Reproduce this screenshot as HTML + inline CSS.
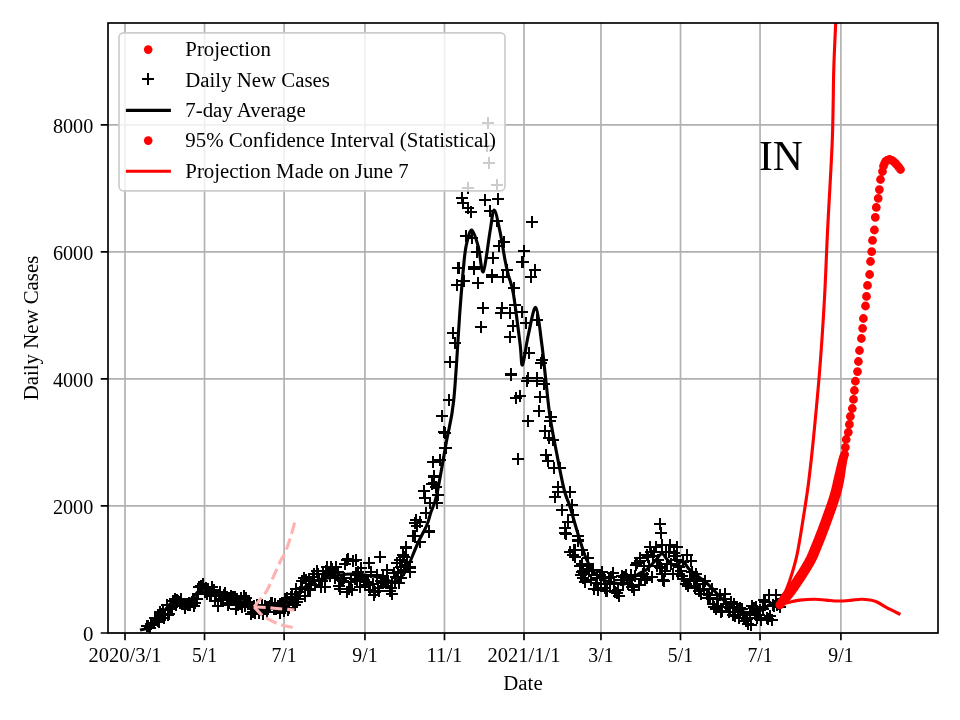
<!DOCTYPE html><html><head><meta charset="utf-8"><style>html,body{margin:0;padding:0;background:#fff;overflow:hidden}svg{display:block;will-change:transform}text{font-family:"Liberation Serif",serif}</style></head><body><svg width="960" height="720" viewBox="0 0 960 720"><rect width="960" height="720" fill="#fff"/><defs><clipPath id="ax"><rect x="108" y="23" width="830" height="610"/></clipPath></defs><path d="M125.00,23 V633 M204.54,23 V633 M284.09,23 V633 M364.94,23 V633 M444.48,23 V633 M524.02,23 V633 M600.96,23 V633 M680.50,23 V633 M760.05,23 V633 M840.90,23 V633 M108,633.00 H938 M108,505.95 H938 M108,378.90 H938 M108,251.85 H938 M108,124.80 H938" stroke="#b0b0b0" stroke-width="1.667" fill="none"/><g clip-path="url(#ax)"><path d="M141,625h12v2h-12zM146,620h2v12h-2zM142,625h12v2h-12zM147,620h2v12h-2zM144,627h12v2h-12zM149,622h2v12h-2zM145,623h12v2h-12zM150,618h2v12h-2zM146,622h12v2h-12zM151,617h2v12h-2zM148,622h12v2h-12zM153,617h2v12h-2zM149,617h12v2h-12zM154,612h2v12h-2zM150,619h12v2h-12zM155,614h2v12h-2zM152,620h12v2h-12zM157,615h2v12h-2zM153,621h12v2h-12zM158,616h2v12h-2zM154,611h12v2h-12zM159,606h2v12h-2zM156,613h12v2h-12zM161,608h2v12h-2zM157,609h12v2h-12zM162,604h2v12h-2zM158,617h12v2h-12zM163,612h2v12h-2zM159,614h12v2h-12zM164,609h2v12h-2zM161,604h12v2h-12zM166,599h2v12h-2zM162,614h12v2h-12zM167,609h2v12h-2zM163,613h12v2h-12zM168,608h2v12h-2zM165,608h12v2h-12zM170,603h2v12h-2zM166,606h12v2h-12zM171,601h2v12h-2zM167,600h12v2h-12zM172,595h2v12h-2zM169,598h12v2h-12zM174,593h2v12h-2zM170,604h12v2h-12zM175,599h2v12h-2zM171,599h12v2h-12zM176,594h2v12h-2zM172,600h12v2h-12zM177,595h2v12h-2zM174,601h12v2h-12zM179,596h2v12h-2zM175,598h12v2h-12zM180,593h2v12h-2zM176,603h12v2h-12zM181,598h2v12h-2zM178,603h12v2h-12zM183,598h2v12h-2zM179,607h12v2h-12zM184,602h2v12h-2zM180,603h12v2h-12zM185,598h2v12h-2zM182,604h12v2h-12zM187,599h2v12h-2zM183,602h12v2h-12zM188,597h2v12h-2zM184,604h12v2h-12zM189,599h2v12h-2zM186,601h12v2h-12zM191,596h2v12h-2zM187,598h12v2h-12zM192,593h2v12h-2zM188,605h12v2h-12zM193,600h2v12h-2zM189,602h12v2h-12zM194,597h2v12h-2zM191,598h12v2h-12zM196,593h2v12h-2zM192,593h12v2h-12zM197,588h2v12h-2zM193,586h12v2h-12zM198,581h2v12h-2zM195,585h12v2h-12zM200,580h2v12h-2zM196,586h12v2h-12zM201,581h2v12h-2zM197,583h12v2h-12zM202,578h2v12h-2zM199,591h12v2h-12zM204,586h2v12h-2zM200,587h12v2h-12zM205,582h2v12h-2zM201,593h12v2h-12zM206,588h2v12h-2zM202,588h12v2h-12zM207,583h2v12h-2zM204,595h12v2h-12zM209,590h2v12h-2zM205,594h12v2h-12zM210,589h2v12h-2zM206,586h12v2h-12zM211,581h2v12h-2zM208,589h12v2h-12zM213,584h2v12h-2zM209,600h12v2h-12zM214,595h2v12h-2zM210,595h12v2h-12zM215,590h2v12h-2zM212,605h12v2h-12zM217,600h2v12h-2zM213,595h12v2h-12zM218,590h2v12h-2zM214,591h12v2h-12zM219,586h2v12h-2zM215,598h12v2h-12zM220,593h2v12h-2zM217,599h12v2h-12zM222,594h2v12h-2zM218,594h12v2h-12zM223,589h2v12h-2zM219,592h12v2h-12zM224,587h2v12h-2zM221,596h12v2h-12zM226,591h2v12h-2zM222,604h12v2h-12zM227,599h2v12h-2zM223,602h12v2h-12zM228,597h2v12h-2zM225,595h12v2h-12zM230,590h2v12h-2zM226,597h12v2h-12zM231,592h2v12h-2zM227,596h12v2h-12zM232,591h2v12h-2zM229,596h12v2h-12zM234,591h2v12h-2zM230,608h12v2h-12zM235,603h2v12h-2zM231,598h12v2h-12zM236,593h2v12h-2zM232,604h12v2h-12zM237,599h2v12h-2zM234,602h12v2h-12zM239,597h2v12h-2zM235,597h12v2h-12zM240,592h2v12h-2zM236,606h12v2h-12zM241,601h2v12h-2zM238,595h12v2h-12zM243,590h2v12h-2zM239,605h12v2h-12zM244,600h2v12h-2zM240,597h12v2h-12zM245,592h2v12h-2zM242,603h12v2h-12zM247,598h2v12h-2zM243,601h12v2h-12zM248,596h2v12h-2zM244,603h12v2h-12zM249,598h2v12h-2zM245,613h12v2h-12zM250,608h2v12h-2zM247,611h12v2h-12zM252,606h2v12h-2zM248,605h12v2h-12zM253,600h2v12h-2zM249,612h12v2h-12zM254,607h2v12h-2zM251,604h12v2h-12zM256,599h2v12h-2zM252,606h12v2h-12zM257,601h2v12h-2zM253,612h12v2h-12zM258,607h2v12h-2zM255,609h12v2h-12zM260,604h2v12h-2zM256,604h12v2h-12zM261,599h2v12h-2zM257,613h12v2h-12zM262,608h2v12h-2zM259,605h12v2h-12zM264,600h2v12h-2zM260,606h12v2h-12zM265,601h2v12h-2zM261,611h12v2h-12zM266,606h2v12h-2zM262,606h12v2h-12zM267,601h2v12h-2zM264,605h12v2h-12zM269,600h2v12h-2zM265,602h12v2h-12zM270,597h2v12h-2zM266,602h12v2h-12zM271,597h2v12h-2zM268,608h12v2h-12zM273,603h2v12h-2zM269,603h12v2h-12zM274,598h2v12h-2zM270,608h12v2h-12zM275,603h2v12h-2zM272,605h12v2h-12zM277,600h2v12h-2zM273,605h12v2h-12zM278,600h2v12h-2zM274,612h12v2h-12zM279,607h2v12h-2zM275,605h12v2h-12zM280,600h2v12h-2zM277,605h12v2h-12zM282,600h2v12h-2zM278,610h12v2h-12zM283,605h2v12h-2zM279,598h12v2h-12zM284,593h2v12h-2zM281,597h12v2h-12zM286,592h2v12h-2zM282,609h12v2h-12zM287,604h2v12h-2zM283,607h12v2h-12zM288,602h2v12h-2zM285,596h12v2h-12zM290,591h2v12h-2zM286,593h12v2h-12zM291,588h2v12h-2zM287,602h12v2h-12zM292,597h2v12h-2zM289,604h12v2h-12zM294,599h2v12h-2zM290,588h12v2h-12zM295,583h2v12h-2zM291,601h12v2h-12zM296,596h2v12h-2zM292,598h12v2h-12zM297,593h2v12h-2zM294,591h12v2h-12zM299,586h2v12h-2zM295,587h12v2h-12zM300,582h2v12h-2zM296,580h12v2h-12zM301,575h2v12h-2zM298,577h12v2h-12zM303,572h2v12h-2zM299,595h12v2h-12zM304,590h2v12h-2zM300,579h12v2h-12zM305,574h2v12h-2zM302,588h12v2h-12zM307,583h2v12h-2zM303,578h12v2h-12zM308,573h2v12h-2zM304,589h12v2h-12zM309,584h2v12h-2zM305,583h12v2h-12zM310,578h2v12h-2zM307,576h12v2h-12zM312,571h2v12h-2zM308,573h12v2h-12zM313,568h2v12h-2zM309,584h12v2h-12zM314,579h2v12h-2zM311,570h12v2h-12zM316,565h2v12h-2zM312,573h12v2h-12zM317,568h2v12h-2zM313,580h12v2h-12zM318,575h2v12h-2zM315,586h12v2h-12zM320,581h2v12h-2zM316,580h12v2h-12zM321,575h2v12h-2zM317,573h12v2h-12zM322,568h2v12h-2zM319,586h12v2h-12zM324,581h2v12h-2zM320,570h12v2h-12zM325,565h2v12h-2zM321,566h12v2h-12zM326,561h2v12h-2zM322,571h12v2h-12zM327,566h2v12h-2zM324,575h12v2h-12zM329,570h2v12h-2zM325,566h12v2h-12zM330,561h2v12h-2zM326,568h12v2h-12zM331,563h2v12h-2zM328,572h12v2h-12zM333,567h2v12h-2zM329,577h12v2h-12zM334,572h2v12h-2zM330,566h12v2h-12zM335,561h2v12h-2zM332,571h12v2h-12zM337,566h2v12h-2zM333,585h12v2h-12zM338,580h2v12h-2zM334,588h12v2h-12zM339,583h2v12h-2zM335,579h12v2h-12zM340,574h2v12h-2zM337,580h12v2h-12zM342,575h2v12h-2zM338,577h12v2h-12zM343,572h2v12h-2zM339,563h12v2h-12zM344,558h2v12h-2zM341,559h12v2h-12zM346,554h2v12h-2zM342,558h12v2h-12zM347,553h2v12h-2zM343,588h12v2h-12zM348,583h2v12h-2zM345,581h12v2h-12zM350,576h2v12h-2zM346,589h12v2h-12zM351,584h2v12h-2zM347,560h12v2h-12zM352,555h2v12h-2zM349,578h12v2h-12zM354,573h2v12h-2zM350,574h12v2h-12zM355,569h2v12h-2zM351,580h12v2h-12zM356,575h2v12h-2zM352,571h12v2h-12zM357,566h2v12h-2zM354,586h12v2h-12zM359,581h2v12h-2zM355,567h12v2h-12zM360,562h2v12h-2zM356,576h12v2h-12zM361,571h2v12h-2zM358,580h12v2h-12zM363,575h2v12h-2zM359,584h12v2h-12zM364,579h2v12h-2zM360,581h12v2h-12zM365,576h2v12h-2zM362,581h12v2h-12zM367,576h2v12h-2zM363,584h12v2h-12zM368,579h2v12h-2zM364,589h12v2h-12zM369,584h2v12h-2zM365,571h12v2h-12zM370,566h2v12h-2zM367,583h12v2h-12zM372,578h2v12h-2zM368,591h12v2h-12zM373,586h2v12h-2zM369,591h12v2h-12zM374,586h2v12h-2zM371,574h12v2h-12zM376,569h2v12h-2zM372,587h12v2h-12zM377,582h2v12h-2zM373,590h12v2h-12zM378,585h2v12h-2zM375,580h12v2h-12zM380,575h2v12h-2zM376,582h12v2h-12zM381,577h2v12h-2zM377,575h12v2h-12zM382,570h2v12h-2zM378,581h12v2h-12zM383,576h2v12h-2zM380,581h12v2h-12zM385,576h2v12h-2zM381,569h12v2h-12zM386,564h2v12h-2zM382,582h12v2h-12zM387,577h2v12h-2zM384,590h12v2h-12zM389,585h2v12h-2zM385,587h12v2h-12zM390,582h2v12h-2zM386,582h12v2h-12zM391,577h2v12h-2zM388,572h12v2h-12zM393,567h2v12h-2zM389,581h12v2h-12zM394,576h2v12h-2zM390,576h12v2h-12zM395,571h2v12h-2zM392,571h12v2h-12zM397,566h2v12h-2zM393,582h12v2h-12zM398,577h2v12h-2zM394,559h12v2h-12zM399,554h2v12h-2zM395,577h12v2h-12zM400,572h2v12h-2zM397,554h12v2h-12zM402,549h2v12h-2zM398,569h12v2h-12zM403,564h2v12h-2zM399,564h12v2h-12zM404,559h2v12h-2zM574,565h12v2h-12zM579,560h2v12h-2zM575,574h12v2h-12zM580,569h2v12h-2zM577,570h12v2h-12zM582,565h2v12h-2zM578,573h12v2h-12zM583,568h2v12h-2zM579,581h12v2h-12zM584,576h2v12h-2zM581,568h12v2h-12zM586,563h2v12h-2zM582,563h12v2h-12zM587,558h2v12h-2zM583,570h12v2h-12zM588,565h2v12h-2zM585,579h12v2h-12zM590,574h2v12h-2zM586,569h12v2h-12zM591,564h2v12h-2zM587,569h12v2h-12zM592,564h2v12h-2zM588,588h12v2h-12zM593,583h2v12h-2zM590,582h12v2h-12zM595,577h2v12h-2zM591,577h12v2h-12zM596,572h2v12h-2zM592,589h12v2h-12zM597,584h2v12h-2zM594,574h12v2h-12zM599,569h2v12h-2zM595,583h12v2h-12zM600,578h2v12h-2zM596,571h12v2h-12zM601,566h2v12h-2zM598,577h12v2h-12zM603,572h2v12h-2zM599,587h12v2h-12zM604,582h2v12h-2zM600,590h12v2h-12zM605,585h2v12h-2zM601,590h12v2h-12zM606,585h2v12h-2zM603,577h12v2h-12zM608,572h2v12h-2zM604,583h12v2h-12zM609,578h2v12h-2zM605,576h12v2h-12zM610,571h2v12h-2zM607,572h12v2h-12zM612,567h2v12h-2zM608,582h12v2h-12zM613,577h2v12h-2zM609,591h12v2h-12zM614,586h2v12h-2zM611,592h12v2h-12zM616,587h2v12h-2zM612,589h12v2h-12zM617,584h2v12h-2zM613,595h12v2h-12zM618,590h2v12h-2zM615,579h12v2h-12zM620,574h2v12h-2zM616,575h12v2h-12zM621,570h2v12h-2zM617,582h12v2h-12zM622,577h2v12h-2zM618,576h12v2h-12zM623,571h2v12h-2zM620,574h12v2h-12zM625,569h2v12h-2zM621,578h12v2h-12zM626,573h2v12h-2zM622,583h12v2h-12zM627,578h2v12h-2zM624,579h12v2h-12zM629,574h2v12h-2zM625,574h12v2h-12zM630,569h2v12h-2zM626,586h12v2h-12zM631,581h2v12h-2zM628,589h12v2h-12zM633,584h2v12h-2zM629,575h12v2h-12zM634,570h2v12h-2zM630,564h12v2h-12zM635,559h2v12h-2zM631,562h12v2h-12zM636,557h2v12h-2zM633,584h12v2h-12zM638,579h2v12h-2zM634,560h12v2h-12zM639,555h2v12h-2zM635,578h12v2h-12zM640,573h2v12h-2zM637,573h12v2h-12zM642,568h2v12h-2zM638,565h12v2h-12zM643,560h2v12h-2zM639,579h12v2h-12zM644,574h2v12h-2zM641,554h12v2h-12zM646,549h2v12h-2zM642,556h12v2h-12zM647,551h2v12h-2zM643,565h12v2h-12zM648,560h2v12h-2zM645,551h12v2h-12zM650,546h2v12h-2zM646,576h12v2h-12zM651,571h2v12h-2zM647,555h12v2h-12zM652,550h2v12h-2zM648,551h12v2h-12zM653,546h2v12h-2zM650,546h12v2h-12zM655,541h2v12h-2zM651,565h12v2h-12zM656,560h2v12h-2zM652,559h12v2h-12zM657,554h2v12h-2zM654,566h12v2h-12zM659,561h2v12h-2zM655,567h12v2h-12zM660,562h2v12h-2zM656,573h12v2h-12zM661,568h2v12h-2zM658,580h12v2h-12zM663,575h2v12h-2zM659,570h12v2h-12zM664,565h2v12h-2zM660,551h12v2h-12zM665,546h2v12h-2zM661,563h12v2h-12zM666,558h2v12h-2zM663,551h12v2h-12zM668,546h2v12h-2zM664,544h12v2h-12zM669,539h2v12h-2zM665,563h12v2h-12zM670,558h2v12h-2zM667,573h12v2h-12zM672,568h2v12h-2zM668,552h12v2h-12zM673,547h2v12h-2zM669,555h12v2h-12zM674,550h2v12h-2zM671,559h12v2h-12zM676,554h2v12h-2zM672,573h12v2h-12zM677,568h2v12h-2zM673,566h12v2h-12zM678,561h2v12h-2zM675,570h12v2h-12zM680,565h2v12h-2zM676,575h12v2h-12zM681,570h2v12h-2zM677,561h12v2h-12zM682,556h2v12h-2zM678,578h12v2h-12zM683,573h2v12h-2zM680,583h12v2h-12zM685,578h2v12h-2zM681,554h12v2h-12zM686,549h2v12h-2zM682,585h12v2h-12zM687,580h2v12h-2zM684,578h12v2h-12zM689,573h2v12h-2zM685,560h12v2h-12zM690,555h2v12h-2zM686,571h12v2h-12zM691,566h2v12h-2zM688,578h12v2h-12zM693,573h2v12h-2zM689,587h12v2h-12zM694,582h2v12h-2zM690,573h12v2h-12zM695,568h2v12h-2zM691,580h12v2h-12zM696,575h2v12h-2zM693,590h12v2h-12zM698,585h2v12h-2zM694,588h12v2h-12zM699,583h2v12h-2zM695,593h12v2h-12zM700,588h2v12h-2zM697,583h12v2h-12zM702,578h2v12h-2zM698,589h12v2h-12zM703,584h2v12h-2zM699,580h12v2h-12zM704,575h2v12h-2zM701,593h12v2h-12zM706,588h2v12h-2zM702,597h12v2h-12zM707,592h2v12h-2zM703,594h12v2h-12zM708,589h2v12h-2zM704,597h12v2h-12zM709,592h2v12h-2zM706,588h12v2h-12zM711,583h2v12h-2zM707,603h12v2h-12zM712,598h2v12h-2zM708,606h12v2h-12zM713,601h2v12h-2zM710,608h12v2h-12zM715,603h2v12h-2zM711,598h12v2h-12zM716,593h2v12h-2zM712,605h12v2h-12zM717,600h2v12h-2zM714,594h12v2h-12zM719,589h2v12h-2zM715,611h12v2h-12zM720,606h2v12h-2zM716,610h12v2h-12zM721,605h2v12h-2zM718,598h12v2h-12zM723,593h2v12h-2zM719,593h12v2h-12zM724,588h2v12h-2zM720,603h12v2h-12zM725,598h2v12h-2zM721,606h12v2h-12zM726,601h2v12h-2zM723,611h12v2h-12zM728,606h2v12h-2zM724,607h12v2h-12zM729,602h2v12h-2zM725,601h12v2h-12zM730,596h2v12h-2zM727,614h12v2h-12zM732,609h2v12h-2zM728,603h12v2h-12zM733,598h2v12h-2zM729,615h12v2h-12zM734,610h2v12h-2zM731,606h12v2h-12zM736,601h2v12h-2zM732,609h12v2h-12zM737,604h2v12h-2zM733,617h12v2h-12zM738,612h2v12h-2zM734,607h12v2h-12zM739,602h2v12h-2zM736,608h12v2h-12zM741,603h2v12h-2zM737,614h12v2h-12zM742,609h2v12h-2zM738,617h12v2h-12zM743,612h2v12h-2zM740,620h12v2h-12zM745,615h2v12h-2zM741,618h12v2h-12zM746,613h2v12h-2zM742,623h12v2h-12zM747,618h2v12h-2zM744,614h12v2h-12zM749,609h2v12h-2zM745,624h12v2h-12zM750,619h2v12h-2zM746,605h12v2h-12zM751,600h2v12h-2zM748,607h12v2h-12zM753,602h2v12h-2zM749,613h12v2h-12zM754,608h2v12h-2zM750,606h12v2h-12zM755,601h2v12h-2zM751,617h12v2h-12zM756,612h2v12h-2zM753,614h12v2h-12zM758,609h2v12h-2zM754,609h12v2h-12zM759,604h2v12h-2zM755,619h12v2h-12zM760,614h2v12h-2zM757,608h12v2h-12zM762,603h2v12h-2zM758,599h12v2h-12zM763,594h2v12h-2zM759,601h12v2h-12zM764,596h2v12h-2zM761,617h12v2h-12zM766,612h2v12h-2zM762,618h12v2h-12zM767,613h2v12h-2zM763,594h12v2h-12zM768,589h2v12h-2zM764,615h12v2h-12zM769,610h2v12h-2zM766,619h12v2h-12zM771,614h2v12h-2zM767,604h12v2h-12zM772,599h2v12h-2zM768,605h12v2h-12zM773,600h2v12h-2zM770,594h12v2h-12zM775,589h2v12h-2zM771,604h12v2h-12zM776,599h2v12h-2zM772,603h12v2h-12zM777,598h2v12h-2zM774,606h12v2h-12zM779,601h2v12h-2zM453,267h12v2h-12zM458,262h2v12h-2zM458,280h12v2h-12zM463,275h2v12h-2zM451,284h12v2h-12zM456,279h2v12h-2zM472,282h12v2h-12zM477,277h2v12h-2zM468,268h12v2h-12zM473,263h2v12h-2zM486,276h12v2h-12zM491,271h2v12h-2zM497,276h12v2h-12zM502,271h2v12h-2zM501,269h12v2h-12zM506,264h2v12h-2zM516,261h12v2h-12zM521,256h2v12h-2zM529,269h12v2h-12zM534,264h2v12h-2zM525,276h12v2h-12zM530,271h2v12h-2zM508,287h12v2h-12zM513,282h2v12h-2zM477,307h12v2h-12zM482,302h2v12h-2zM496,307h12v2h-12zM501,302h2v12h-2zM495,312h12v2h-12zM500,307h2v12h-2zM504,312h12v2h-12zM509,307h2v12h-2zM509,304h12v2h-12zM514,299h2v12h-2zM516,311h12v2h-12zM521,306h2v12h-2zM475,326h12v2h-12zM480,321h2v12h-2zM507,325h12v2h-12zM512,320h2v12h-2zM520,322h12v2h-12zM525,317h2v12h-2zM531,319h12v2h-12zM536,314h2v12h-2zM504,336h12v2h-12zM509,331h2v12h-2zM447,332h12v2h-12zM452,327h2v12h-2zM449,342h12v2h-12zM454,337h2v12h-2zM444,361h12v2h-12zM449,356h2v12h-2zM523,352h12v2h-12zM528,347h2v12h-2zM536,359h12v2h-12zM541,354h2v12h-2zM535,362h12v2h-12zM540,357h2v12h-2zM505,373h12v2h-12zM510,368h2v12h-2zM522,377h12v2h-12zM527,372h2v12h-2zM531,377h12v2h-12zM536,372h2v12h-2zM456,197h12v2h-12zM461,192h2v12h-2zM457,202h12v2h-12zM462,197h2v12h-2zM465,211h12v2h-12zM470,206h2v12h-2zM462,207h12v2h-12zM467,202h2v12h-2zM479,199h12v2h-12zM484,194h2v12h-2zM492,198h12v2h-12zM497,193h2v12h-2zM484,210h12v2h-12zM489,205h2v12h-2zM491,220h12v2h-12zM496,215h2v12h-2zM460,235h12v2h-12zM465,230h2v12h-2zM466,237h12v2h-12zM471,232h2v12h-2zM498,241h12v2h-12zM503,236h2v12h-2zM493,245h12v2h-12zM498,240h2v12h-2zM471,251h12v2h-12zM476,246h2v12h-2zM487,257h12v2h-12zM492,252h2v12h-2zM452,267h12v2h-12zM457,262h2v12h-2zM468,266h12v2h-12zM473,261h2v12h-2zM526,221h12v2h-12zM531,216h2v12h-2zM518,250h12v2h-12zM523,245h2v12h-2zM517,261h12v2h-12zM522,256h2v12h-2zM529,269h12v2h-12zM534,264h2v12h-2zM501,269h12v2h-12zM506,264h2v12h-2zM486,274h12v2h-12zM491,269h2v12h-2zM482,122h12v2h-12zM487,117h2v12h-2zM483,162h12v2h-12zM488,157h2v12h-2zM462,187h12v2h-12zM467,182h2v12h-2zM491,184h12v2h-12zM496,179h2v12h-2zM481,145h12v2h-12zM486,140h2v12h-2zM505,374h12v2h-12zM510,369h2v12h-2zM521,380h12v2h-12zM526,375h2v12h-2zM531,380h12v2h-12zM536,375h2v12h-2zM538,383h12v2h-12zM543,378h2v12h-2zM510,397h12v2h-12zM515,392h2v12h-2zM514,395h12v2h-12zM519,390h2v12h-2zM534,396h12v2h-12zM539,391h2v12h-2zM533,410h12v2h-12zM538,405h2v12h-2zM522,420h12v2h-12zM527,415h2v12h-2zM545,416h12v2h-12zM550,411h2v12h-2zM544,420h12v2h-12zM549,415h2v12h-2zM539,430h12v2h-12zM544,425h2v12h-2zM543,437h12v2h-12zM548,432h2v12h-2zM547,439h12v2h-12zM552,434h2v12h-2zM512,458h12v2h-12zM517,453h2v12h-2zM540,454h12v2h-12zM545,449h2v12h-2zM542,460h12v2h-12zM547,455h2v12h-2zM548,467h12v2h-12zM553,462h2v12h-2zM554,467h12v2h-12zM559,462h2v12h-2zM443,399h12v2h-12zM448,394h2v12h-2zM436,415h12v2h-12zM441,410h2v12h-2zM439,432h12v2h-12zM444,427h2v12h-2zM439,447h12v2h-12zM444,442h2v12h-2zM552,486h12v2h-12zM557,481h2v12h-2zM436,415h12v2h-12zM441,410h2v12h-2zM438,431h12v2h-12zM443,426h2v12h-2zM440,447h12v2h-12zM445,442h2v12h-2zM427,461h12v2h-12zM432,456h2v12h-2zM434,459h12v2h-12zM439,454h2v12h-2zM428,475h12v2h-12zM433,470h2v12h-2zM426,483h12v2h-12zM431,478h2v12h-2zM443,399h12v2h-12zM448,394h2v12h-2zM549,496h12v2h-12zM554,491h2v12h-2zM552,491h12v2h-12zM557,486h2v12h-2zM564,491h12v2h-12zM569,486h2v12h-2zM566,504h12v2h-12zM571,499h2v12h-2zM556,509h12v2h-12zM561,504h2v12h-2zM567,514h12v2h-12zM572,509h2v12h-2zM562,521h12v2h-12zM567,516h2v12h-2zM559,527h12v2h-12zM564,522h2v12h-2zM559,532h12v2h-12zM564,527h2v12h-2zM572,539h12v2h-12zM577,534h2v12h-2zM569,549h12v2h-12zM574,544h2v12h-2zM567,554h12v2h-12zM572,549h2v12h-2zM428,476h12v2h-12zM433,471h2v12h-2zM428,482h12v2h-12zM433,477h2v12h-2zM430,486h12v2h-12zM435,481h2v12h-2zM418,490h12v2h-12zM423,485h2v12h-2zM419,497h12v2h-12zM424,492h2v12h-2zM432,494h12v2h-12zM437,489h2v12h-2zM431,502h12v2h-12zM436,497h2v12h-2zM424,502h12v2h-12zM429,497h2v12h-2zM420,512h12v2h-12zM425,507h2v12h-2zM410,519h12v2h-12zM415,514h2v12h-2zM409,522h12v2h-12zM414,517h2v12h-2zM414,521h12v2h-12zM419,516h2v12h-2zM654,523h12v2h-12zM659,518h2v12h-2zM655,532h12v2h-12zM660,527h2v12h-2zM656,544h12v2h-12zM661,539h2v12h-2zM644,546h12v2h-12zM649,541h2v12h-2zM634,557h12v2h-12zM639,552h2v12h-2zM641,577h12v2h-12zM646,572h2v12h-2zM657,579h12v2h-12zM662,574h2v12h-2zM671,546h12v2h-12zM676,541h2v12h-2zM341,591h12v2h-12zM346,586h2v12h-2zM350,559h12v2h-12zM355,554h2v12h-2zM363,562h12v2h-12zM368,557h2v12h-2zM374,556h12v2h-12zM379,551h2v12h-2zM368,594h12v2h-12zM373,589h2v12h-2zM386,593h12v2h-12zM391,588h2v12h-2zM391,562h12v2h-12zM396,557h2v12h-2zM404,567h12v2h-12zM409,562h2v12h-2zM400,547h12v2h-12zM405,542h2v12h-2zM409,535h12v2h-12zM414,530h2v12h-2zM423,531h12v2h-12zM428,526h2v12h-2zM414,541h12v2h-12zM419,536h2v12h-2zM568,549h12v2h-12zM573,544h2v12h-2zM569,556h12v2h-12zM574,551h2v12h-2zM576,549h12v2h-12zM581,544h2v12h-2zM582,557h12v2h-12zM587,552h2v12h-2zM576,563h12v2h-12zM581,558h2v12h-2zM576,571h12v2h-12zM581,566h2v12h-2zM577,577h12v2h-12zM582,572h2v12h-2zM572,540h12v2h-12zM577,535h2v12h-2zM572,535h12v2h-12zM577,530h2v12h-2zM560,533h12v2h-12zM565,528h2v12h-2zM559,527h12v2h-12zM564,522h2v12h-2zM564,551h12v2h-12zM569,546h2v12h-2zM400,546h12v2h-12zM405,541h2v12h-2zM398,556h12v2h-12zM403,551h2v12h-2zM401,561h12v2h-12zM406,556h2v12h-2zM404,566h12v2h-12zM409,561h2v12h-2zM404,571h12v2h-12zM409,566h2v12h-2zM395,566h12v2h-12zM400,561h2v12h-2zM407,535h12v2h-12zM412,530h2v12h-2zM414,541h12v2h-12zM419,536h2v12h-2zM423,530h12v2h-12zM428,525h2v12h-2zM411,525h12v2h-12zM416,520h2v12h-2z" fill="#000" shape-rendering="crispEdges"/><path d="M140.00,630.00 C141.17,629.67 144.50,629.67 147.00,628.00 C149.50,626.33 152.67,622.17 155.00,620.00 C157.33,617.83 158.92,617.17 161.00,615.00 C163.08,612.83 165.38,609.33 167.50,607.00 C169.62,604.67 171.67,601.83 173.75,601.00 C175.83,600.17 177.96,601.83 180.00,602.00 C182.04,602.17 183.92,602.67 186.00,602.00 C188.08,601.33 190.38,599.83 192.50,598.00 C194.62,596.17 196.67,592.50 198.75,591.00 C200.83,589.50 202.96,589.17 205.00,589.00 C207.04,588.83 208.92,589.00 211.00,590.00 C213.08,591.00 215.33,594.00 217.50,595.00 C219.67,596.00 221.92,595.33 224.00,596.00 C226.08,596.67 228.00,598.17 230.00,599.00 C232.00,599.83 233.83,600.50 236.00,601.00 C238.17,601.50 240.25,601.00 243.00,602.00 C245.75,603.00 248.83,605.83 252.50,607.00 C256.17,608.17 260.83,609.00 265.00,609.00 C269.17,609.00 273.33,608.33 277.50,607.00 C281.67,605.67 285.83,604.00 290.00,601.00 C294.17,598.00 298.33,592.33 302.50,589.00 C306.67,585.67 310.83,582.83 315.00,581.00 C319.17,579.17 323.33,579.00 327.50,578.00 C331.67,577.00 335.83,575.67 340.00,575.00 C344.17,574.33 348.33,574.00 352.50,574.00 C356.67,574.00 360.83,574.50 365.00,575.00 C369.17,575.50 372.71,575.83 377.50,577.00 C382.29,578.17 390.00,581.75 393.75,582.00 C397.50,582.25 397.77,580.78 400.00,578.50 C402.23,576.22 404.12,574.22 407.10,568.30 C410.08,562.38 414.60,550.22 417.90,543.00 C421.20,535.78 424.75,530.08 426.90,525.00 C429.05,519.92 429.17,517.50 430.80,512.50 C432.43,507.50 434.12,506.67 436.70,495.00 C439.27,483.33 443.41,458.33 446.25,442.50 C449.09,426.67 451.46,422.08 453.75,400.00 C456.04,377.92 458.26,333.33 460.00,310.00 C461.74,286.67 463.08,271.12 464.20,260.00 C465.32,248.88 465.45,248.30 466.70,243.30 C467.95,238.30 469.77,229.43 471.70,230.00 C473.63,230.57 476.37,239.75 478.30,246.70 C480.23,253.65 481.35,274.20 483.30,271.70 C485.25,269.20 488.18,241.98 490.00,231.70 C491.82,221.42 492.53,210.00 494.20,210.00 C495.87,210.00 498.20,223.37 500.00,231.70 C501.80,240.03 503.62,252.78 505.00,260.00 C506.38,267.22 506.92,269.45 508.30,275.00 C509.68,280.55 511.35,281.92 513.30,293.30 C515.25,304.68 518.47,331.35 520.00,343.30 C521.53,355.25 521.12,366.38 522.50,365.00 C523.88,363.62 526.08,344.58 528.30,335.00 C530.52,325.42 533.57,306.12 535.80,307.50 C538.03,308.88 540.03,331.22 541.70,343.30 C543.37,355.38 544.42,367.77 545.80,380.00 C547.18,392.23 548.18,404.48 550.00,416.70 C551.82,428.92 554.33,441.08 556.70,453.30 C559.07,465.52 561.98,481.10 564.20,490.00 C566.42,498.90 567.65,499.20 570.00,506.70 C572.35,514.20 575.52,526.12 578.30,535.00 C581.08,543.88 583.92,553.62 586.70,560.00 C589.48,566.38 592.23,569.97 595.00,573.30 C597.77,576.63 599.13,578.26 603.30,580.00 C607.47,581.74 615.97,583.33 620.00,583.75 C624.03,584.17 624.38,584.17 627.50,582.50 C630.62,580.83 635.67,575.83 638.75,573.75 C641.83,571.67 643.29,572.12 646.00,570.00 C648.71,567.88 652.35,563.71 655.00,561.00 C657.65,558.29 659.82,553.92 661.90,553.75 C663.98,553.58 665.32,557.96 667.50,560.00 C669.68,562.04 672.50,565.83 675.00,566.00 C677.50,566.17 680.00,560.33 682.50,561.00 C685.00,561.67 685.62,566.00 690.00,570.00 C694.38,574.00 703.20,580.00 708.75,585.00 C714.30,590.00 718.09,595.67 723.30,600.00 C728.51,604.33 734.43,609.00 740.00,611.00 C745.57,613.00 751.20,613.33 756.70,612.00 C762.20,610.67 769.12,604.33 773.00,603.00 C776.88,601.67 778.83,603.83 780.00,604.00" stroke="#000" stroke-width="3.125" fill="none" stroke-linejoin="round"/><path d="M254.10,606.90 C255.40,605.23 259.77,599.62 261.90,596.90 C264.03,594.18 264.92,594.08 266.90,590.60 C268.88,587.12 271.40,581.10 273.75,576.00 C276.10,570.90 279.12,563.83 281.00,560.00 C282.88,556.17 283.42,556.75 285.00,553.00 C286.58,549.25 288.88,542.63 290.50,537.50 C292.12,532.37 294.00,524.75 294.70,522.20" stroke="#ffb2b2" stroke-width="3.125" fill="none" stroke-dasharray="11.56 5"/><path d="M254.10,606.90 C256.02,607.00 260.87,607.15 265.60,607.50 C270.33,607.85 277.70,608.58 282.50,609.00 C287.30,609.42 292.42,609.83 294.40,610.00" stroke="#ffb2b2" stroke-width="3.125" fill="none" stroke-dasharray="11.56 5"/><path d="M254.10,606.90 C255.40,608.25 259.77,613.08 261.90,615.00 C264.03,616.92 264.40,617.00 266.90,618.40 C269.40,619.80 274.30,622.25 276.90,623.40 C279.50,624.55 279.85,624.62 282.50,625.30 C285.15,625.98 291.08,627.13 292.80,627.50" stroke="#ffb2b2" stroke-width="3.125" fill="none" stroke-dasharray="11.56 5"/><path d="M779.80,604.80m-4.4,0a4.4,4.4 0 1,0 8.8,0a4.4,4.4 0 1,0 -8.8,0M779.80,604.80m-4.4,0a4.4,4.4 0 1,0 8.8,0a4.4,4.4 0 1,0 -8.8,0M780.58,603.58m-4.4,0a4.4,4.4 0 1,0 8.8,0a4.4,4.4 0 1,0 -8.8,0M780.98,603.58m-4.4,0a4.4,4.4 0 1,0 8.8,0a4.4,4.4 0 1,0 -8.8,0M781.43,602.26m-4.4,0a4.4,4.4 0 1,0 8.8,0a4.4,4.4 0 1,0 -8.8,0M782.25,602.26m-4.4,0a4.4,4.4 0 1,0 8.8,0a4.4,4.4 0 1,0 -8.8,0M782.23,601.01m-4.4,0a4.4,4.4 0 1,0 8.8,0a4.4,4.4 0 1,0 -8.8,0M783.46,601.01m-4.4,0a4.4,4.4 0 1,0 8.8,0a4.4,4.4 0 1,0 -8.8,0M783.09,599.66m-4.4,0a4.4,4.4 0 1,0 8.8,0a4.4,4.4 0 1,0 -8.8,0M784.75,599.66m-4.4,0a4.4,4.4 0 1,0 8.8,0a4.4,4.4 0 1,0 -8.8,0M783.87,598.41m-4.4,0a4.4,4.4 0 1,0 8.8,0a4.4,4.4 0 1,0 -8.8,0M785.94,598.41m-4.4,0a4.4,4.4 0 1,0 8.8,0a4.4,4.4 0 1,0 -8.8,0M784.78,597.16m-4.4,0a4.4,4.4 0 1,0 8.8,0a4.4,4.4 0 1,0 -8.8,0M786.98,597.16m-4.4,0a4.4,4.4 0 1,0 8.8,0a4.4,4.4 0 1,0 -8.8,0M785.73,595.94m-4.4,0a4.4,4.4 0 1,0 8.8,0a4.4,4.4 0 1,0 -8.8,0M787.93,595.94m-4.4,0a4.4,4.4 0 1,0 8.8,0a4.4,4.4 0 1,0 -8.8,0M786.77,594.64m-4.4,0a4.4,4.4 0 1,0 8.8,0a4.4,4.4 0 1,0 -8.8,0M788.97,594.64m-4.4,0a4.4,4.4 0 1,0 8.8,0a4.4,4.4 0 1,0 -8.8,0M787.84,593.31m-4.4,0a4.4,4.4 0 1,0 8.8,0a4.4,4.4 0 1,0 -8.8,0M790.04,593.31m-4.4,0a4.4,4.4 0 1,0 8.8,0a4.4,4.4 0 1,0 -8.8,0M788.85,592.02m-4.4,0a4.4,4.4 0 1,0 8.8,0a4.4,4.4 0 1,0 -8.8,0M791.05,592.02m-4.4,0a4.4,4.4 0 1,0 8.8,0a4.4,4.4 0 1,0 -8.8,0M789.80,590.77m-4.4,0a4.4,4.4 0 1,0 8.8,0a4.4,4.4 0 1,0 -8.8,0M792.00,590.77m-4.4,0a4.4,4.4 0 1,0 8.8,0a4.4,4.4 0 1,0 -8.8,0M790.69,589.56m-4.4,0a4.4,4.4 0 1,0 8.8,0a4.4,4.4 0 1,0 -8.8,0M792.89,589.56m-4.4,0a4.4,4.4 0 1,0 8.8,0a4.4,4.4 0 1,0 -8.8,0M791.66,588.20m-4.4,0a4.4,4.4 0 1,0 8.8,0a4.4,4.4 0 1,0 -8.8,0M793.86,588.20m-4.4,0a4.4,4.4 0 1,0 8.8,0a4.4,4.4 0 1,0 -8.8,0M792.54,586.93m-4.4,0a4.4,4.4 0 1,0 8.8,0a4.4,4.4 0 1,0 -8.8,0M794.74,586.93m-4.4,0a4.4,4.4 0 1,0 8.8,0a4.4,4.4 0 1,0 -8.8,0M793.49,585.51m-4.4,0a4.4,4.4 0 1,0 8.8,0a4.4,4.4 0 1,0 -8.8,0M795.69,585.51m-4.4,0a4.4,4.4 0 1,0 8.8,0a4.4,4.4 0 1,0 -8.8,0M794.34,584.25m-4.4,0a4.4,4.4 0 1,0 8.8,0a4.4,4.4 0 1,0 -8.8,0M796.54,584.25m-4.4,0a4.4,4.4 0 1,0 8.8,0a4.4,4.4 0 1,0 -8.8,0M795.26,582.87m-4.4,0a4.4,4.4 0 1,0 8.8,0a4.4,4.4 0 1,0 -8.8,0M797.46,582.87m-4.4,0a4.4,4.4 0 1,0 8.8,0a4.4,4.4 0 1,0 -8.8,0M796.24,581.40m-4.4,0a4.4,4.4 0 1,0 8.8,0a4.4,4.4 0 1,0 -8.8,0M798.44,581.40m-4.4,0a4.4,4.4 0 1,0 8.8,0a4.4,4.4 0 1,0 -8.8,0M797.27,579.85m-4.4,0a4.4,4.4 0 1,0 8.8,0a4.4,4.4 0 1,0 -8.8,0M799.47,579.85m-4.4,0a4.4,4.4 0 1,0 8.8,0a4.4,4.4 0 1,0 -8.8,0M798.06,578.64m-4.4,0a4.4,4.4 0 1,0 8.8,0a4.4,4.4 0 1,0 -8.8,0M800.26,578.64m-4.4,0a4.4,4.4 0 1,0 8.8,0a4.4,4.4 0 1,0 -8.8,0M798.87,577.41m-4.4,0a4.4,4.4 0 1,0 8.8,0a4.4,4.4 0 1,0 -8.8,0M801.07,577.41m-4.4,0a4.4,4.4 0 1,0 8.8,0a4.4,4.4 0 1,0 -8.8,0M799.69,576.15m-4.4,0a4.4,4.4 0 1,0 8.8,0a4.4,4.4 0 1,0 -8.8,0M801.89,576.15m-4.4,0a4.4,4.4 0 1,0 8.8,0a4.4,4.4 0 1,0 -8.8,0M800.51,574.88m-4.4,0a4.4,4.4 0 1,0 8.8,0a4.4,4.4 0 1,0 -8.8,0M802.71,574.88m-4.4,0a4.4,4.4 0 1,0 8.8,0a4.4,4.4 0 1,0 -8.8,0M801.34,573.60m-4.4,0a4.4,4.4 0 1,0 8.8,0a4.4,4.4 0 1,0 -8.8,0M803.54,573.60m-4.4,0a4.4,4.4 0 1,0 8.8,0a4.4,4.4 0 1,0 -8.8,0M802.15,572.32m-4.4,0a4.4,4.4 0 1,0 8.8,0a4.4,4.4 0 1,0 -8.8,0M804.35,572.32m-4.4,0a4.4,4.4 0 1,0 8.8,0a4.4,4.4 0 1,0 -8.8,0M802.96,571.04m-4.4,0a4.4,4.4 0 1,0 8.8,0a4.4,4.4 0 1,0 -8.8,0M805.16,571.04m-4.4,0a4.4,4.4 0 1,0 8.8,0a4.4,4.4 0 1,0 -8.8,0M803.75,569.78m-4.4,0a4.4,4.4 0 1,0 8.8,0a4.4,4.4 0 1,0 -8.8,0M805.95,569.78m-4.4,0a4.4,4.4 0 1,0 8.8,0a4.4,4.4 0 1,0 -8.8,0M804.52,568.53m-4.4,0a4.4,4.4 0 1,0 8.8,0a4.4,4.4 0 1,0 -8.8,0M806.72,568.53m-4.4,0a4.4,4.4 0 1,0 8.8,0a4.4,4.4 0 1,0 -8.8,0M805.27,567.31m-4.4,0a4.4,4.4 0 1,0 8.8,0a4.4,4.4 0 1,0 -8.8,0M807.47,567.31m-4.4,0a4.4,4.4 0 1,0 8.8,0a4.4,4.4 0 1,0 -8.8,0M806.22,565.73m-4.4,0a4.4,4.4 0 1,0 8.8,0a4.4,4.4 0 1,0 -8.8,0M808.42,565.73m-4.4,0a4.4,4.4 0 1,0 8.8,0a4.4,4.4 0 1,0 -8.8,0M807.10,564.22m-4.4,0a4.4,4.4 0 1,0 8.8,0a4.4,4.4 0 1,0 -8.8,0M809.30,564.22m-4.4,0a4.4,4.4 0 1,0 8.8,0a4.4,4.4 0 1,0 -8.8,0M807.90,562.80m-4.4,0a4.4,4.4 0 1,0 8.8,0a4.4,4.4 0 1,0 -8.8,0M810.10,562.80m-4.4,0a4.4,4.4 0 1,0 8.8,0a4.4,4.4 0 1,0 -8.8,0M808.63,561.47m-4.4,0a4.4,4.4 0 1,0 8.8,0a4.4,4.4 0 1,0 -8.8,0M810.83,561.47m-4.4,0a4.4,4.4 0 1,0 8.8,0a4.4,4.4 0 1,0 -8.8,0M809.29,560.21m-4.4,0a4.4,4.4 0 1,0 8.8,0a4.4,4.4 0 1,0 -8.8,0M811.49,560.21m-4.4,0a4.4,4.4 0 1,0 8.8,0a4.4,4.4 0 1,0 -8.8,0M809.91,559.00m-4.4,0a4.4,4.4 0 1,0 8.8,0a4.4,4.4 0 1,0 -8.8,0M812.11,559.00m-4.4,0a4.4,4.4 0 1,0 8.8,0a4.4,4.4 0 1,0 -8.8,0M810.62,557.56m-4.4,0a4.4,4.4 0 1,0 8.8,0a4.4,4.4 0 1,0 -8.8,0M812.82,557.56m-4.4,0a4.4,4.4 0 1,0 8.8,0a4.4,4.4 0 1,0 -8.8,0M811.27,556.18m-4.4,0a4.4,4.4 0 1,0 8.8,0a4.4,4.4 0 1,0 -8.8,0M813.47,556.18m-4.4,0a4.4,4.4 0 1,0 8.8,0a4.4,4.4 0 1,0 -8.8,0M811.87,554.82m-4.4,0a4.4,4.4 0 1,0 8.8,0a4.4,4.4 0 1,0 -8.8,0M814.07,554.82m-4.4,0a4.4,4.4 0 1,0 8.8,0a4.4,4.4 0 1,0 -8.8,0M812.46,553.47m-4.4,0a4.4,4.4 0 1,0 8.8,0a4.4,4.4 0 1,0 -8.8,0M814.66,553.47m-4.4,0a4.4,4.4 0 1,0 8.8,0a4.4,4.4 0 1,0 -8.8,0M813.02,552.10m-4.4,0a4.4,4.4 0 1,0 8.8,0a4.4,4.4 0 1,0 -8.8,0M815.22,552.10m-4.4,0a4.4,4.4 0 1,0 8.8,0a4.4,4.4 0 1,0 -8.8,0M813.60,550.70m-4.4,0a4.4,4.4 0 1,0 8.8,0a4.4,4.4 0 1,0 -8.8,0M815.80,550.70m-4.4,0a4.4,4.4 0 1,0 8.8,0a4.4,4.4 0 1,0 -8.8,0M814.19,549.23m-4.4,0a4.4,4.4 0 1,0 8.8,0a4.4,4.4 0 1,0 -8.8,0M816.39,549.23m-4.4,0a4.4,4.4 0 1,0 8.8,0a4.4,4.4 0 1,0 -8.8,0M814.68,548.01m-4.4,0a4.4,4.4 0 1,0 8.8,0a4.4,4.4 0 1,0 -8.8,0M816.88,548.01m-4.4,0a4.4,4.4 0 1,0 8.8,0a4.4,4.4 0 1,0 -8.8,0M815.20,546.72m-4.4,0a4.4,4.4 0 1,0 8.8,0a4.4,4.4 0 1,0 -8.8,0M817.40,546.72m-4.4,0a4.4,4.4 0 1,0 8.8,0a4.4,4.4 0 1,0 -8.8,0M815.75,545.35m-4.4,0a4.4,4.4 0 1,0 8.8,0a4.4,4.4 0 1,0 -8.8,0M817.95,545.35m-4.4,0a4.4,4.4 0 1,0 8.8,0a4.4,4.4 0 1,0 -8.8,0M816.34,543.92m-4.4,0a4.4,4.4 0 1,0 8.8,0a4.4,4.4 0 1,0 -8.8,0M818.54,543.92m-4.4,0a4.4,4.4 0 1,0 8.8,0a4.4,4.4 0 1,0 -8.8,0M816.95,542.43m-4.4,0a4.4,4.4 0 1,0 8.8,0a4.4,4.4 0 1,0 -8.8,0M819.15,542.43m-4.4,0a4.4,4.4 0 1,0 8.8,0a4.4,4.4 0 1,0 -8.8,0M817.56,540.90m-4.4,0a4.4,4.4 0 1,0 8.8,0a4.4,4.4 0 1,0 -8.8,0M819.76,540.90m-4.4,0a4.4,4.4 0 1,0 8.8,0a4.4,4.4 0 1,0 -8.8,0M818.19,539.33m-4.4,0a4.4,4.4 0 1,0 8.8,0a4.4,4.4 0 1,0 -8.8,0M820.39,539.33m-4.4,0a4.4,4.4 0 1,0 8.8,0a4.4,4.4 0 1,0 -8.8,0M818.67,538.13m-4.4,0a4.4,4.4 0 1,0 8.8,0a4.4,4.4 0 1,0 -8.8,0M820.87,538.13m-4.4,0a4.4,4.4 0 1,0 8.8,0a4.4,4.4 0 1,0 -8.8,0M819.15,536.91m-4.4,0a4.4,4.4 0 1,0 8.8,0a4.4,4.4 0 1,0 -8.8,0M821.35,536.91m-4.4,0a4.4,4.4 0 1,0 8.8,0a4.4,4.4 0 1,0 -8.8,0M819.63,535.68m-4.4,0a4.4,4.4 0 1,0 8.8,0a4.4,4.4 0 1,0 -8.8,0M821.83,535.68m-4.4,0a4.4,4.4 0 1,0 8.8,0a4.4,4.4 0 1,0 -8.8,0M820.12,534.42m-4.4,0a4.4,4.4 0 1,0 8.8,0a4.4,4.4 0 1,0 -8.8,0M822.32,534.42m-4.4,0a4.4,4.4 0 1,0 8.8,0a4.4,4.4 0 1,0 -8.8,0M820.61,533.16m-4.4,0a4.4,4.4 0 1,0 8.8,0a4.4,4.4 0 1,0 -8.8,0M822.81,533.16m-4.4,0a4.4,4.4 0 1,0 8.8,0a4.4,4.4 0 1,0 -8.8,0M821.10,531.88m-4.4,0a4.4,4.4 0 1,0 8.8,0a4.4,4.4 0 1,0 -8.8,0M823.30,531.88m-4.4,0a4.4,4.4 0 1,0 8.8,0a4.4,4.4 0 1,0 -8.8,0M821.59,530.58m-4.4,0a4.4,4.4 0 1,0 8.8,0a4.4,4.4 0 1,0 -8.8,0M823.79,530.58m-4.4,0a4.4,4.4 0 1,0 8.8,0a4.4,4.4 0 1,0 -8.8,0M822.08,529.28m-4.4,0a4.4,4.4 0 1,0 8.8,0a4.4,4.4 0 1,0 -8.8,0M824.28,529.28m-4.4,0a4.4,4.4 0 1,0 8.8,0a4.4,4.4 0 1,0 -8.8,0M822.58,527.97m-4.4,0a4.4,4.4 0 1,0 8.8,0a4.4,4.4 0 1,0 -8.8,0M824.78,527.97m-4.4,0a4.4,4.4 0 1,0 8.8,0a4.4,4.4 0 1,0 -8.8,0M823.07,526.65m-4.4,0a4.4,4.4 0 1,0 8.8,0a4.4,4.4 0 1,0 -8.8,0M825.27,526.65m-4.4,0a4.4,4.4 0 1,0 8.8,0a4.4,4.4 0 1,0 -8.8,0M823.56,525.33m-4.4,0a4.4,4.4 0 1,0 8.8,0a4.4,4.4 0 1,0 -8.8,0M825.76,525.33m-4.4,0a4.4,4.4 0 1,0 8.8,0a4.4,4.4 0 1,0 -8.8,0M824.05,524.00m-4.4,0a4.4,4.4 0 1,0 8.8,0a4.4,4.4 0 1,0 -8.8,0M826.25,524.00m-4.4,0a4.4,4.4 0 1,0 8.8,0a4.4,4.4 0 1,0 -8.8,0M824.54,522.67m-4.4,0a4.4,4.4 0 1,0 8.8,0a4.4,4.4 0 1,0 -8.8,0M826.74,522.67m-4.4,0a4.4,4.4 0 1,0 8.8,0a4.4,4.4 0 1,0 -8.8,0M825.02,521.33m-4.4,0a4.4,4.4 0 1,0 8.8,0a4.4,4.4 0 1,0 -8.8,0M827.22,521.33m-4.4,0a4.4,4.4 0 1,0 8.8,0a4.4,4.4 0 1,0 -8.8,0M825.50,520.00m-4.4,0a4.4,4.4 0 1,0 8.8,0a4.4,4.4 0 1,0 -8.8,0M827.70,520.00m-4.4,0a4.4,4.4 0 1,0 8.8,0a4.4,4.4 0 1,0 -8.8,0M825.98,518.66m-4.4,0a4.4,4.4 0 1,0 8.8,0a4.4,4.4 0 1,0 -8.8,0M828.18,518.66m-4.4,0a4.4,4.4 0 1,0 8.8,0a4.4,4.4 0 1,0 -8.8,0M826.47,517.31m-4.4,0a4.4,4.4 0 1,0 8.8,0a4.4,4.4 0 1,0 -8.8,0M828.67,517.31m-4.4,0a4.4,4.4 0 1,0 8.8,0a4.4,4.4 0 1,0 -8.8,0M826.96,515.95m-4.4,0a4.4,4.4 0 1,0 8.8,0a4.4,4.4 0 1,0 -8.8,0M829.16,515.95m-4.4,0a4.4,4.4 0 1,0 8.8,0a4.4,4.4 0 1,0 -8.8,0M827.46,514.58m-4.4,0a4.4,4.4 0 1,0 8.8,0a4.4,4.4 0 1,0 -8.8,0M829.66,514.58m-4.4,0a4.4,4.4 0 1,0 8.8,0a4.4,4.4 0 1,0 -8.8,0M827.95,513.20m-4.4,0a4.4,4.4 0 1,0 8.8,0a4.4,4.4 0 1,0 -8.8,0M830.15,513.20m-4.4,0a4.4,4.4 0 1,0 8.8,0a4.4,4.4 0 1,0 -8.8,0M828.46,511.82m-4.4,0a4.4,4.4 0 1,0 8.8,0a4.4,4.4 0 1,0 -8.8,0M830.66,511.82m-4.4,0a4.4,4.4 0 1,0 8.8,0a4.4,4.4 0 1,0 -8.8,0M828.96,510.42m-4.4,0a4.4,4.4 0 1,0 8.8,0a4.4,4.4 0 1,0 -8.8,0M831.16,510.42m-4.4,0a4.4,4.4 0 1,0 8.8,0a4.4,4.4 0 1,0 -8.8,0M829.46,509.01m-4.4,0a4.4,4.4 0 1,0 8.8,0a4.4,4.4 0 1,0 -8.8,0M831.66,509.01m-4.4,0a4.4,4.4 0 1,0 8.8,0a4.4,4.4 0 1,0 -8.8,0M829.95,507.60m-4.4,0a4.4,4.4 0 1,0 8.8,0a4.4,4.4 0 1,0 -8.8,0M832.15,507.60m-4.4,0a4.4,4.4 0 1,0 8.8,0a4.4,4.4 0 1,0 -8.8,0M830.45,506.18m-4.4,0a4.4,4.4 0 1,0 8.8,0a4.4,4.4 0 1,0 -8.8,0M832.65,506.18m-4.4,0a4.4,4.4 0 1,0 8.8,0a4.4,4.4 0 1,0 -8.8,0M830.94,504.75m-4.4,0a4.4,4.4 0 1,0 8.8,0a4.4,4.4 0 1,0 -8.8,0M833.14,504.75m-4.4,0a4.4,4.4 0 1,0 8.8,0a4.4,4.4 0 1,0 -8.8,0M831.43,503.32m-4.4,0a4.4,4.4 0 1,0 8.8,0a4.4,4.4 0 1,0 -8.8,0M833.63,503.32m-4.4,0a4.4,4.4 0 1,0 8.8,0a4.4,4.4 0 1,0 -8.8,0M831.91,501.88m-4.4,0a4.4,4.4 0 1,0 8.8,0a4.4,4.4 0 1,0 -8.8,0M834.11,501.88m-4.4,0a4.4,4.4 0 1,0 8.8,0a4.4,4.4 0 1,0 -8.8,0M832.38,500.44m-4.4,0a4.4,4.4 0 1,0 8.8,0a4.4,4.4 0 1,0 -8.8,0M834.58,500.44m-4.4,0a4.4,4.4 0 1,0 8.8,0a4.4,4.4 0 1,0 -8.8,0M832.85,498.99m-4.4,0a4.4,4.4 0 1,0 8.8,0a4.4,4.4 0 1,0 -8.8,0M835.05,498.99m-4.4,0a4.4,4.4 0 1,0 8.8,0a4.4,4.4 0 1,0 -8.8,0M833.30,497.54m-4.4,0a4.4,4.4 0 1,0 8.8,0a4.4,4.4 0 1,0 -8.8,0M835.50,497.54m-4.4,0a4.4,4.4 0 1,0 8.8,0a4.4,4.4 0 1,0 -8.8,0M833.74,496.08m-4.4,0a4.4,4.4 0 1,0 8.8,0a4.4,4.4 0 1,0 -8.8,0M835.94,496.08m-4.4,0a4.4,4.4 0 1,0 8.8,0a4.4,4.4 0 1,0 -8.8,0M834.18,494.63m-4.4,0a4.4,4.4 0 1,0 8.8,0a4.4,4.4 0 1,0 -8.8,0M836.38,494.63m-4.4,0a4.4,4.4 0 1,0 8.8,0a4.4,4.4 0 1,0 -8.8,0M834.60,493.16m-4.4,0a4.4,4.4 0 1,0 8.8,0a4.4,4.4 0 1,0 -8.8,0M836.80,493.16m-4.4,0a4.4,4.4 0 1,0 8.8,0a4.4,4.4 0 1,0 -8.8,0M835.00,491.70m-4.4,0a4.4,4.4 0 1,0 8.8,0a4.4,4.4 0 1,0 -8.8,0M837.20,491.70m-4.4,0a4.4,4.4 0 1,0 8.8,0a4.4,4.4 0 1,0 -8.8,0M835.40,490.20m-4.4,0a4.4,4.4 0 1,0 8.8,0a4.4,4.4 0 1,0 -8.8,0M837.60,490.20m-4.4,0a4.4,4.4 0 1,0 8.8,0a4.4,4.4 0 1,0 -8.8,0M835.78,488.65m-4.4,0a4.4,4.4 0 1,0 8.8,0a4.4,4.4 0 1,0 -8.8,0M837.98,488.65m-4.4,0a4.4,4.4 0 1,0 8.8,0a4.4,4.4 0 1,0 -8.8,0M836.17,487.04m-4.4,0a4.4,4.4 0 1,0 8.8,0a4.4,4.4 0 1,0 -8.8,0M838.37,487.04m-4.4,0a4.4,4.4 0 1,0 8.8,0a4.4,4.4 0 1,0 -8.8,0M836.55,485.40m-4.4,0a4.4,4.4 0 1,0 8.8,0a4.4,4.4 0 1,0 -8.8,0M838.75,485.40m-4.4,0a4.4,4.4 0 1,0 8.8,0a4.4,4.4 0 1,0 -8.8,0M836.92,483.72m-4.4,0a4.4,4.4 0 1,0 8.8,0a4.4,4.4 0 1,0 -8.8,0M839.12,483.72m-4.4,0a4.4,4.4 0 1,0 8.8,0a4.4,4.4 0 1,0 -8.8,0M837.28,482.02m-4.4,0a4.4,4.4 0 1,0 8.8,0a4.4,4.4 0 1,0 -8.8,0M839.48,482.02m-4.4,0a4.4,4.4 0 1,0 8.8,0a4.4,4.4 0 1,0 -8.8,0M837.64,480.32m-4.4,0a4.4,4.4 0 1,0 8.8,0a4.4,4.4 0 1,0 -8.8,0M839.84,480.32m-4.4,0a4.4,4.4 0 1,0 8.8,0a4.4,4.4 0 1,0 -8.8,0M838.05,478.61m-4.4,0a4.4,4.4 0 1,0 8.8,0a4.4,4.4 0 1,0 -8.8,0M840.13,478.61m-4.4,0a4.4,4.4 0 1,0 8.8,0a4.4,4.4 0 1,0 -8.8,0M838.47,476.90m-4.4,0a4.4,4.4 0 1,0 8.8,0a4.4,4.4 0 1,0 -8.8,0M840.39,476.90m-4.4,0a4.4,4.4 0 1,0 8.8,0a4.4,4.4 0 1,0 -8.8,0M838.87,475.22m-4.4,0a4.4,4.4 0 1,0 8.8,0a4.4,4.4 0 1,0 -8.8,0M840.65,475.22m-4.4,0a4.4,4.4 0 1,0 8.8,0a4.4,4.4 0 1,0 -8.8,0M839.27,473.56m-4.4,0a4.4,4.4 0 1,0 8.8,0a4.4,4.4 0 1,0 -8.8,0M840.90,473.56m-4.4,0a4.4,4.4 0 1,0 8.8,0a4.4,4.4 0 1,0 -8.8,0M839.65,471.94m-4.4,0a4.4,4.4 0 1,0 8.8,0a4.4,4.4 0 1,0 -8.8,0M841.14,471.94m-4.4,0a4.4,4.4 0 1,0 8.8,0a4.4,4.4 0 1,0 -8.8,0M840.03,470.36m-4.4,0a4.4,4.4 0 1,0 8.8,0a4.4,4.4 0 1,0 -8.8,0M841.38,470.36m-4.4,0a4.4,4.4 0 1,0 8.8,0a4.4,4.4 0 1,0 -8.8,0M840.38,468.84m-4.4,0a4.4,4.4 0 1,0 8.8,0a4.4,4.4 0 1,0 -8.8,0M841.60,468.84m-4.4,0a4.4,4.4 0 1,0 8.8,0a4.4,4.4 0 1,0 -8.8,0M840.73,467.38m-4.4,0a4.4,4.4 0 1,0 8.8,0a4.4,4.4 0 1,0 -8.8,0M841.82,467.38m-4.4,0a4.4,4.4 0 1,0 8.8,0a4.4,4.4 0 1,0 -8.8,0M841.06,466.00m-4.4,0a4.4,4.4 0 1,0 8.8,0a4.4,4.4 0 1,0 -8.8,0M842.03,466.00m-4.4,0a4.4,4.4 0 1,0 8.8,0a4.4,4.4 0 1,0 -8.8,0M841.38,464.70m-4.4,0a4.4,4.4 0 1,0 8.8,0a4.4,4.4 0 1,0 -8.8,0M842.23,464.70m-4.4,0a4.4,4.4 0 1,0 8.8,0a4.4,4.4 0 1,0 -8.8,0M841.67,463.50m-4.4,0a4.4,4.4 0 1,0 8.8,0a4.4,4.4 0 1,0 -8.8,0M842.42,463.50m-4.4,0a4.4,4.4 0 1,0 8.8,0a4.4,4.4 0 1,0 -8.8,0M842.05,462.05m-4.4,0a4.4,4.4 0 1,0 8.8,0a4.4,4.4 0 1,0 -8.8,0M842.67,462.05m-4.4,0a4.4,4.4 0 1,0 8.8,0a4.4,4.4 0 1,0 -8.8,0M842.38,460.80m-4.4,0a4.4,4.4 0 1,0 8.8,0a4.4,4.4 0 1,0 -8.8,0M842.89,460.80m-4.4,0a4.4,4.4 0 1,0 8.8,0a4.4,4.4 0 1,0 -8.8,0M842.76,459.48m-4.4,0a4.4,4.4 0 1,0 8.8,0a4.4,4.4 0 1,0 -8.8,0M843.15,459.48m-4.4,0a4.4,4.4 0 1,0 8.8,0a4.4,4.4 0 1,0 -8.8,0M843.14,458.21m-4.4,0a4.4,4.4 0 1,0 8.8,0a4.4,4.4 0 1,0 -8.8,0M843.42,458.21m-4.4,0a4.4,4.4 0 1,0 8.8,0a4.4,4.4 0 1,0 -8.8,0M843.55,456.95m-4.4,0a4.4,4.4 0 1,0 8.8,0a4.4,4.4 0 1,0 -8.8,0M843.72,456.95m-4.4,0a4.4,4.4 0 1,0 8.8,0a4.4,4.4 0 1,0 -8.8,0M844.03,455.71m-4.4,0a4.4,4.4 0 1,0 8.8,0a4.4,4.4 0 1,0 -8.8,0M844.10,455.71m-4.4,0a4.4,4.4 0 1,0 8.8,0a4.4,4.4 0 1,0 -8.8,0M844.58,454.46m-4.4,0a4.4,4.4 0 1,0 8.8,0a4.4,4.4 0 1,0 -8.8,0M844.58,454.46m-4.4,0a4.4,4.4 0 1,0 8.8,0a4.4,4.4 0 1,0 -8.8,0M844.60,454.40m-4.4,0a4.4,4.4 0 1,0 8.8,0a4.4,4.4 0 1,0 -8.8,0M845.40,447.30m-4.4,0a4.4,4.4 0 1,0 8.8,0a4.4,4.4 0 1,0 -8.8,0M846.20,439.50m-4.4,0a4.4,4.4 0 1,0 8.8,0a4.4,4.4 0 1,0 -8.8,0M848.30,432.30m-4.4,0a4.4,4.4 0 1,0 8.8,0a4.4,4.4 0 1,0 -8.8,0M849.40,424.40m-4.4,0a4.4,4.4 0 1,0 8.8,0a4.4,4.4 0 1,0 -8.8,0M850.40,416.40m-4.4,0a4.4,4.4 0 1,0 8.8,0a4.4,4.4 0 1,0 -8.8,0M852.30,408.50m-4.4,0a4.4,4.4 0 1,0 8.8,0a4.4,4.4 0 1,0 -8.8,0M853.50,399.40m-4.4,0a4.4,4.4 0 1,0 8.8,0a4.4,4.4 0 1,0 -8.8,0M854.40,390.50m-4.4,0a4.4,4.4 0 1,0 8.8,0a4.4,4.4 0 1,0 -8.8,0M855.40,381.25m-4.4,0a4.4,4.4 0 1,0 8.8,0a4.4,4.4 0 1,0 -8.8,0M857.50,371.60m-4.4,0a4.4,4.4 0 1,0 8.8,0a4.4,4.4 0 1,0 -8.8,0M858.40,361.50m-4.4,0a4.4,4.4 0 1,0 8.8,0a4.4,4.4 0 1,0 -8.8,0M859.50,350.50m-4.4,0a4.4,4.4 0 1,0 8.8,0a4.4,4.4 0 1,0 -8.8,0M861.40,338.50m-4.4,0a4.4,4.4 0 1,0 8.8,0a4.4,4.4 0 1,0 -8.8,0M862.60,328.30m-4.4,0a4.4,4.4 0 1,0 8.8,0a4.4,4.4 0 1,0 -8.8,0M863.40,318.50m-4.4,0a4.4,4.4 0 1,0 8.8,0a4.4,4.4 0 1,0 -8.8,0M865.50,306.00m-4.4,0a4.4,4.4 0 1,0 8.8,0a4.4,4.4 0 1,0 -8.8,0M866.50,296.40m-4.4,0a4.4,4.4 0 1,0 8.8,0a4.4,4.4 0 1,0 -8.8,0M867.50,285.40m-4.4,0a4.4,4.4 0 1,0 8.8,0a4.4,4.4 0 1,0 -8.8,0M869.60,274.50m-4.4,0a4.4,4.4 0 1,0 8.8,0a4.4,4.4 0 1,0 -8.8,0M870.50,261.50m-4.4,0a4.4,4.4 0 1,0 8.8,0a4.4,4.4 0 1,0 -8.8,0M871.70,251.60m-4.4,0a4.4,4.4 0 1,0 8.8,0a4.4,4.4 0 1,0 -8.8,0M872.50,240.40m-4.4,0a4.4,4.4 0 1,0 8.8,0a4.4,4.4 0 1,0 -8.8,0M874.40,230.00m-4.4,0a4.4,4.4 0 1,0 8.8,0a4.4,4.4 0 1,0 -8.8,0M875.30,217.30m-4.4,0a4.4,4.4 0 1,0 8.8,0a4.4,4.4 0 1,0 -8.8,0M876.30,207.40m-4.4,0a4.4,4.4 0 1,0 8.8,0a4.4,4.4 0 1,0 -8.8,0M878.20,198.30m-4.4,0a4.4,4.4 0 1,0 8.8,0a4.4,4.4 0 1,0 -8.8,0M879.40,189.60m-4.4,0a4.4,4.4 0 1,0 8.8,0a4.4,4.4 0 1,0 -8.8,0M880.50,179.50m-4.4,0a4.4,4.4 0 1,0 8.8,0a4.4,4.4 0 1,0 -8.8,0M882.50,171.50m-4.4,0a4.4,4.4 0 1,0 8.8,0a4.4,4.4 0 1,0 -8.8,0M883.50,166.00m-4.4,0a4.4,4.4 0 1,0 8.8,0a4.4,4.4 0 1,0 -8.8,0M884.50,163.50m-4.4,0a4.4,4.4 0 1,0 8.8,0a4.4,4.4 0 1,0 -8.8,0M885.50,161.50m-4.4,0a4.4,4.4 0 1,0 8.8,0a4.4,4.4 0 1,0 -8.8,0M887.50,160.20m-4.4,0a4.4,4.4 0 1,0 8.8,0a4.4,4.4 0 1,0 -8.8,0M889.50,159.50m-4.4,0a4.4,4.4 0 1,0 8.8,0a4.4,4.4 0 1,0 -8.8,0M891.50,160.20m-4.4,0a4.4,4.4 0 1,0 8.8,0a4.4,4.4 0 1,0 -8.8,0M893.50,161.50m-4.4,0a4.4,4.4 0 1,0 8.8,0a4.4,4.4 0 1,0 -8.8,0M895.30,163.20m-4.4,0a4.4,4.4 0 1,0 8.8,0a4.4,4.4 0 1,0 -8.8,0M897.00,165.00m-4.4,0a4.4,4.4 0 1,0 8.8,0a4.4,4.4 0 1,0 -8.8,0M898.80,167.20m-4.4,0a4.4,4.4 0 1,0 8.8,0a4.4,4.4 0 1,0 -8.8,0M900.50,169.50m-4.4,0a4.4,4.4 0 1,0 8.8,0a4.4,4.4 0 1,0 -8.8,0" fill="#ff0000"/><path d="M779.80,604.80 C781.42,600.87 786.60,589.68 789.50,581.20 C792.40,572.72 794.62,566.23 797.20,553.90 C799.78,541.57 803.05,519.52 805.00,507.20 C806.95,494.88 807.52,491.20 808.90,480.00 C810.28,468.80 811.50,458.33 813.30,440.00 C815.10,421.67 817.85,393.33 819.70,370.00 C821.55,346.67 823.08,323.33 824.40,300.00 C825.72,276.67 826.28,256.67 827.60,230.00 C828.92,203.33 831.27,166.67 832.30,140.00 C833.32,113.33 833.18,89.50 833.75,70.00 C834.32,50.50 835.38,30.83 835.70,23.00" stroke="#ff0000" stroke-width="3.125" fill="none"/><path d="M779.80,604.80 C781.42,604.37 786.13,602.98 789.50,602.20 C792.87,601.42 795.80,600.58 800.00,600.10 C804.20,599.62 810.37,599.30 814.70,599.30 C819.03,599.30 822.10,599.82 826.00,600.10 C829.90,600.38 834.10,600.95 838.10,601.00 C842.10,601.05 846.12,600.70 850.00,600.40 C853.88,600.10 858.07,599.27 861.40,599.20 C864.73,599.13 867.40,599.53 870.00,600.00 C872.60,600.47 874.22,600.72 877.00,602.00 C879.78,603.28 882.80,605.63 886.70,607.70 C890.60,609.77 898.12,613.28 900.40,614.40" stroke="#ff0000" stroke-width="3.125" fill="none"/></g><text x="759" y="170" font-size="41.67">IN</text><g><rect x="119" y="32.8" width="386" height="158" rx="4.5" ry="4.5" fill="#fff" fill-opacity="0.8" stroke="#cccccc" stroke-width="1.667"/><circle cx="148.2" cy="49.6" r="4.3" fill="#ff0000"/><path d="M142,78h12v2h-12zM147,73h2v12h-2z" fill="#000" shape-rendering="crispEdges"/><path d="M125.9,110.4H170.9" stroke="#000" stroke-width="3.125"/><circle cx="148.2" cy="140.6" r="4.3" fill="#ff0000"/><path d="M125.9,171.3H170.9" stroke="#ff0000" stroke-width="3.125"/><text x="185.3" y="55.80" font-size="20.833">Projection</text><text x="185.3" y="86.60" font-size="20.833">Daily New Cases</text><text x="185.3" y="116.90" font-size="20.833">7-day Average</text><text x="185.3" y="147.40" font-size="20.833">95% Confidence Interval (Statistical)</text><text x="185.3" y="177.60" font-size="20.833">Projection Made on June 7</text></g><rect x="108" y="23" width="830" height="610" fill="none" stroke="#000" stroke-width="1.667"/><path d="M125.00,633v7.29M204.54,633v7.29M284.09,633v7.29M364.94,633v7.29M444.48,633v7.29M524.02,633v7.29M600.96,633v7.29M680.50,633v7.29M760.05,633v7.29M840.90,633v7.29M108,633.00h-7.29M108,505.95h-7.29M108,378.90h-7.29M108,251.85h-7.29M108,124.80h-7.29" stroke="#000" stroke-width="1.667"/><text x="125.00" y="662" font-size="20.833" text-anchor="middle" transform="translate(125.00,0) scale(0.985,1) translate(-125.00,0)">2020/3/1</text><text x="204.54" y="662" font-size="20.833" text-anchor="middle" transform="translate(204.54,0) scale(0.95,1) translate(-204.54,0)">5/1</text><text x="284.09" y="662" font-size="20.833" text-anchor="middle" transform="translate(284.09,0) scale(0.95,1) translate(-284.09,0)">7/1</text><text x="364.94" y="662" font-size="20.833" text-anchor="middle" transform="translate(364.94,0) scale(0.95,1) translate(-364.94,0)">9/1</text><text x="444.48" y="662" font-size="20.833" text-anchor="middle" transform="translate(444.48,0) scale(0.99,1) translate(-444.48,0)">11/1</text><text x="524.02" y="662" font-size="20.833" text-anchor="middle" transform="translate(524.02,0) scale(0.985,1) translate(-524.02,0)">2021/1/1</text><text x="600.96" y="662" font-size="20.833" text-anchor="middle" transform="translate(600.96,0) scale(0.95,1) translate(-600.96,0)">3/1</text><text x="680.50" y="662" font-size="20.833" text-anchor="middle" transform="translate(680.50,0) scale(0.95,1) translate(-680.50,0)">5/1</text><text x="760.05" y="662" font-size="20.833" text-anchor="middle" transform="translate(760.05,0) scale(0.95,1) translate(-760.05,0)">7/1</text><text x="840.90" y="662" font-size="20.833" text-anchor="middle" transform="translate(840.90,0) scale(0.95,1) translate(-840.90,0)">9/1</text><text x="93.3" y="641.00" font-size="20.833" text-anchor="end" transform="translate(93.3,0) scale(1,1) translate(-93.3,0)">0</text><text x="93.3" y="513.95" font-size="20.833" text-anchor="end" transform="translate(93.3,0) scale(0.97,1) translate(-93.3,0)">2000</text><text x="93.3" y="386.90" font-size="20.833" text-anchor="end" transform="translate(93.3,0) scale(0.97,1) translate(-93.3,0)">4000</text><text x="93.3" y="259.85" font-size="20.833" text-anchor="end" transform="translate(93.3,0) scale(0.97,1) translate(-93.3,0)">6000</text><text x="93.3" y="132.80" font-size="20.833" text-anchor="end" transform="translate(93.3,0) scale(0.97,1) translate(-93.3,0)">8000</text><text x="523" y="689.8" font-size="20.833" text-anchor="middle">Date</text><text transform="translate(38.4,328) rotate(-90)" font-size="20.833" text-anchor="middle">Daily New Cases</text></svg></body></html>
